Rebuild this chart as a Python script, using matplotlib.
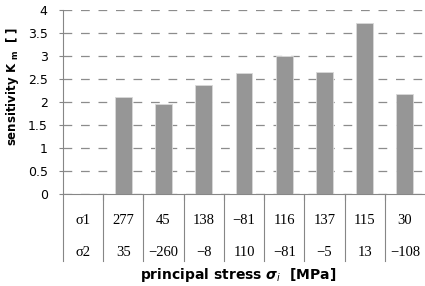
import matplotlib
matplotlib.use("Agg")
import matplotlib.pyplot as plt
import matplotlib.transforms as mtransforms

# data
categories = ["", "1", "2", "3", "4", "5", "6", "7", "8"]
sensitivity = [None, 2.10, 1.95, 2.37, 2.63, 3.00, 2.66, 3.71, 2.18]
sigma1 = ["σ1", "277", "45", "138", "\u221281", "116", "137", "115", "30"]
sigma2 = ["σ2", "35", "\u2212260", "\u22128", "110", "\u221281", "\u22125", "13", "\u2212108"]
yticks = [0, 0.5, 1, 1.5, 2, 2.5, 3, 3.5, 4]
ytick_labels = ["0", "0.5", "1", "1.5", "2", "2.5", "3", "3.5", "4"]

W, H = 425, 286
fig = plt.figure(figsize=(W / 100, H / 100), dpi=100)
ax = fig.add_axes([63 / W, 1 - 194 / H, 362 / W, 184 / H])

xs = [i for i, v in enumerate(sensitivity) if v is not None]
vals = [v for v in sensitivity if v is not None]
ax.bar(xs, vals, width=0.42, color="#969696", edgecolor="#d9d9d9", linewidth=0.6, zorder=3)

ax.set_xlim(-0.5, len(categories) - 0.5)
ax.set_ylim(0, 4)
ax.set_yticks(yticks)
ax.set_yticklabels(ytick_labels, family="DejaVu Sans", fontsize=9)
ax.tick_params(axis="y", length=3, color="#868686", pad=8)
ax.yaxis.grid(True, linestyle=(0, (7, 7)), color="#8c8c8c", linewidth=0.9, zorder=0)

ax.set_xticks([i + 0.5 for i in range(len(categories) - 1)])
ax.set_xticklabels([])
ax.tick_params(axis="x", length=4, color="#868686")

for side in ["top", "right"]:
    ax.spines[side].set_visible(False)
ax.spines["left"].set_color("#868686")
ax.spines["bottom"].set_color("#868686")

# table rows below the axis
trans = mtransforms.blended_transform_factory(ax.transData, ax.transAxes)
row1_y = -(220 - 194) / 184
row2_y = -(253 - 194) / 184
line_bot = -(261 - 194) / 184
for i in range(len(categories)):
    ax.text(i, row1_y, sigma1[i], transform=trans, ha="center", va="center",
            family="Liberation Serif", fontsize=10.5)
    ax.text(i, row2_y, sigma2[i], transform=trans, ha="center", va="center",
            family="Liberation Serif", fontsize=10.5)
for i in range(len(categories)):
    ax.plot([i - 0.5, i - 0.5], [0, line_bot], transform=trans, color="#868686",
            linewidth=0.8, clip_on=False)

ax.set_ylabel(r"sensitivity K $_{\mathregular{m}}$  [ ]", fontsize=8.5, fontweight="bold",
              family="DejaVu Sans")
ax.yaxis.set_label_coords(-(63 - 21) / 362, (194 - 86) / 184)
fig.text(238 / W, 1 - 275 / H,
         r"principal stress $\boldsymbol{\sigma}_{\mathit{i}}$  [MPa]",
         ha="center", va="center", fontsize=10, fontweight="bold", family="DejaVu Sans")

fig.savefig("out.png", dpi=100)
